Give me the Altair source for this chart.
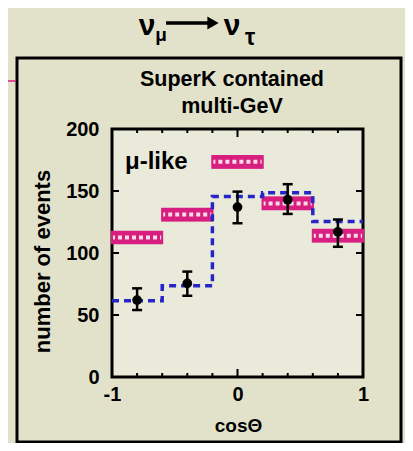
import altair as alt
import pandas as pd

# ---- data ----
bin_lo = [-1.0, -0.6, -0.2, 0.2, 0.6]
bin_hi = [-0.6, -0.2, 0.2, 0.6, 1.0]
bin_center = [-0.8, -0.4, 0.0, 0.4, 0.8]
osc_pred = [61.5, 73.5, 145.5, 148.5, 125.5]      # blue dashed histogram
no_osc = [112.5, 131.0, 173.5, 140.0, 114.0]      # magenta hatched boxes (centre)
no_osc_half = [4.7, 4.7, 4.7, 4.7, 4.7]           # half height of the boxes
data_val = [62.0, 75.5, 137.0, 143.0, 117.0]      # measured points
data_lo = [54.0, 65.5, 124.0, 131.5, 105.0]
data_hi = [71.5, 85.0, 149.5, 155.5, 127.0]

x_labels = [-1, 0, 1]
y_labels = [0, 50, 100, 150, 200]
x_minor = [-0.8, -0.6, -0.4, -0.2, 0.2, 0.4, 0.6, 0.8]
x_major = [0.0]
y_major = [50, 100, 150]

FONT = "Liberation Sans"
MAG = "#d81f80"
BLUE = "#2626c8"

W, H = 251, 248

xs = alt.Scale(domain=[-1, 1], nice=False, zero=False)
ys = alt.Scale(domain=[0, 200], nice=False)

xaxis = alt.Axis(values=x_labels, ticks=False, domain=False, grid=False,
                 labelExpr="toString(datum.value)",
                 labelFont=FONT, labelFontSize=20, labelFontWeight="bold",
                 labelPadding=7, labelColor="black", labelFlush=False,
                 title="cosΘ", titleFont=FONT, titleFontSize=19, titleFontWeight="bold",
                 titleColor="black", titleX=126, titleY=48, titleBaseline="middle",
                 titleAlign="center")
yaxis = alt.Axis(values=y_labels, ticks=False, domain=False, grid=False,
                 labelFont=FONT, labelFontSize=20, labelFontWeight="bold",
                 labelPadding=13, labelColor="black", labelFlush=False,
                 title="number of events", titleFont=FONT, titleFontSize=22,
                 titleFontWeight="bold", titleColor="black", titleAngle=-90,
                 titleX=-70, titleY=132, titleBaseline="middle", titleAlign="center")


def X(f):
    return alt.X(f, type="quantitative", scale=xs, axis=xaxis)


def Y(f):
    return alt.Y(f, type="quantitative", scale=ys, axis=yaxis)


boxes = pd.DataFrame({
    "lo": bin_lo, "hi": bin_hi,
    "ylo": [v - h for v, h in zip(no_osc, no_osc_half)],
    "yhi": [v + h for v, h in zip(no_osc, no_osc_half)],
    "val": no_osc,
})

edges = bin_lo + [bin_hi[-1]]
step = pd.DataFrame({"x": edges, "y": osc_pred + [osc_pred[-1]]})

pts = pd.DataFrame({"x": bin_center, "y": data_val, "lo": data_lo, "hi": data_hi})
caps = pd.DataFrame({"x": bin_center * 2, "y": data_lo + data_hi})

one = pd.DataFrame({"a": [0]})

box_layer = alt.Chart(boxes).mark_rect(fill=MAG, stroke=MAG, strokeWidth=1.5).encode(
    x=X("lo"), x2="hi", y=Y("ylo"), y2="yhi")
hatch_layer = alt.Chart(boxes).mark_rule(stroke="#f4dbe6", strokeWidth=4,
                                         strokeDash=[4, 3], strokeDashOffset=1).encode(
    x=X("lo"), x2="hi", y=Y("val"))
hatch_edge = alt.Chart(boxes).mark_rect(fillOpacity=0, stroke=MAG, strokeWidth=2).encode(
    x=X("lo"), x2="hi", y=Y("ylo"), y2="yhi")

step_layer = alt.Chart(step).mark_line(interpolate="step-after", color=BLUE,
                                       strokeWidth=3.5, strokeDash=[7, 5]).encode(
    x=X("x"), y=Y("y"))

bar_layer = alt.Chart(pts).mark_rule(color="black", strokeWidth=2.5).encode(
    x=X("x"), y=Y("lo"), y2="hi")
cap_layer = alt.Chart(caps).mark_tick(orient="horizontal", color="black", size=10,
                                      thickness=2.5, opacity=1).encode(
    x=X("x"), y=Y("y"))
pt_layer = alt.Chart(pts).mark_point(filled=True, shape="circle", size=95,
                                     color="black", opacity=1).encode(
    x=X("x"), y=Y("y"))

# inward ticks
xmin_df = pd.DataFrame({"x": x_minor})
xmaj_df = pd.DataFrame({"x": x_major})
ymaj_df = pd.DataFrame({"y": y_major})
tick_kw = dict(color="black", strokeWidth=2)
t1 = alt.Chart(xmin_df).mark_rule(**tick_kw).encode(x=X("x"), y=alt.value(H), y2=alt.value(H - 4))
t2 = alt.Chart(xmin_df).mark_rule(**tick_kw).encode(x=X("x"), y=alt.value(0), y2=alt.value(4))
t3 = alt.Chart(xmaj_df).mark_rule(**tick_kw).encode(x=X("x"), y=alt.value(H), y2=alt.value(H - 8))
t4 = alt.Chart(xmaj_df).mark_rule(**tick_kw).encode(x=X("x"), y=alt.value(0), y2=alt.value(8))
t5 = alt.Chart(ymaj_df).mark_rule(**tick_kw).encode(y=Y("y"), x=alt.value(0), x2=alt.value(7))
t6 = alt.Chart(ymaj_df).mark_rule(**tick_kw).encode(y=Y("y"), x=alt.value(W), x2=alt.value(W - 7))

# decorations of the slide
frame = alt.Chart(one).mark_rect(fillOpacity=0, stroke="black", strokeWidth=3).encode(
    x=alt.value(-95), x2=alt.value(289), y=alt.value(-71), y2=alt.value(313))
pink_line = alt.Chart(one).mark_rule(color=MAG, strokeWidth=1.5).encode(
    x=alt.value(-104), x2=alt.value(-96), y=alt.value(-48))
arrow_shaft = alt.Chart(one).mark_rule(color="black", strokeWidth=3.5).encode(
    x=alt.value(54), x2=alt.value(100), y=alt.value(-106))
arrow_head = alt.Chart(one).mark_point(shape="triangle-right", filled=True, size=170,
                                       color="black", opacity=1).encode(
    x=alt.value(101), y=alt.value(-106))


def txt(s, x, y, size, baseline="alphabetic", align="center"):
    return alt.Chart(one).mark_text(text=s, font=FONT, fontSize=size, fontWeight="bold",
                                    color="black", baseline=baseline, align=align).encode(
        x=alt.value(x), y=alt.value(y))


texts = [
    txt("ν", 35, -94, 30),
    txt("μ", 49, -88, 19),
    txt("ν", 120, -94, 30),
    txt("τ", 138, -84, 23),
    txt("SuperK contained", 120, -49, 21.5, baseline="middle"),
    txt("multi-GeV", 120, -22, 21.5, baseline="middle"),
    txt("μ-like", 13, 33, 24, baseline="middle", align="left"),
]

chart = alt.layer(
    frame, pink_line, arrow_shaft, arrow_head,
    box_layer, hatch_layer, hatch_edge,
    step_layer,
    bar_layer, cap_layer, pt_layer,
    t1, t2, t3, t4, t5, t6,
    *texts,
).properties(
    width=W, height=H,
    autosize=alt.AutoSizeParams(type="none"),
    padding={"left": 104, "top": 121, "right": 42, "bottom": 66},
    background="#e2e2cb",
).configure_view(
    stroke="black", strokeWidth=3, fill="#eaeadb"
)

chart.save("out.html", embed_options={"renderer": "svg", "actions": False})
